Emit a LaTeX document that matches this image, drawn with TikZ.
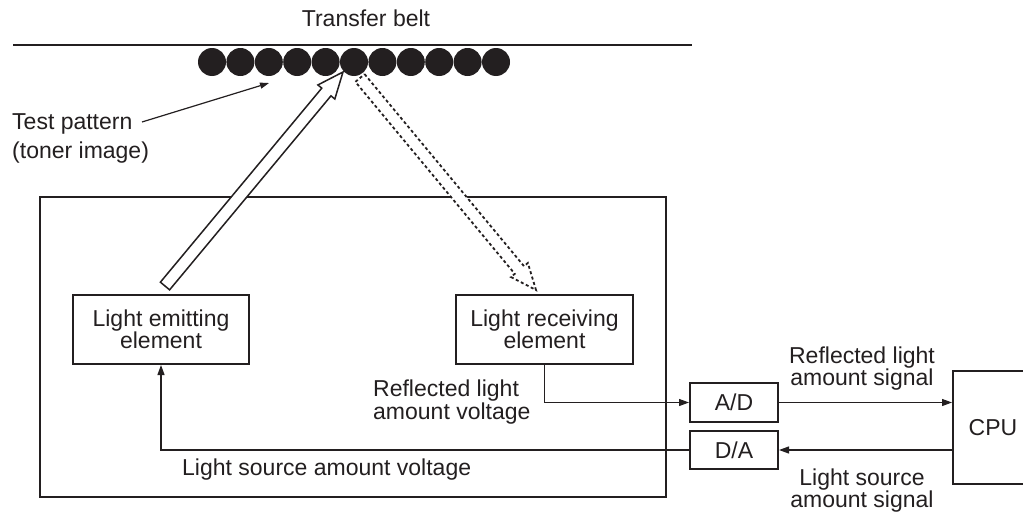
\documentclass[tikz,border=0pt]{standalone}
\usepackage{fontspec}
\setmainfont{Liberation Sans}
\usetikzlibrary{calc,arrows.meta}
\definecolor{ink}{HTML}{231F20}
\newcommand\hollowarrow[3]{%
  \coordinate (H) at ($(#3)!26pt!(#2)$);
  \draw[#1] ($(#2)!6pt!90:(#3)$) -- ($(H)!6pt!90:(#3)$) -- ($(H)!11pt!90:(#3)$) -- (#3)
    -- ($(H)!11pt!-90:(#3)$) -- ($(H)!6pt!-90:(#3)$) -- ($(#2)!6pt!-90:(#3)$) -- cycle;}
\begin{document}
\begin{tikzpicture}[x=1pt,y=-1pt,
  txt/.style={font=\fontsize{23}{22.5}\selectfont, inner sep=0pt, text=ink},
  box/.style={draw=ink, line width=2pt, inner sep=0pt, txt, align=center},
  sig/.style={draw=ink, line width=1.2pt, -{Triangle[length=10pt,width=7pt]}},
  beam/.style={draw=ink, fill=white, line width=1.5pt, line join=miter},
  toner/.style={circle, fill=ink, minimum size=28pt, inner sep=0pt}]
\clip (0,0) rectangle (1023,514);
\fill[white] (0,0) rectangle (1023,514);
% transfer belt
\coordinate (beltL) at (13,45);
\coordinate (beltR) at (692,45);
\draw[ink, line width=2pt] (beltL) -- (beltR);
\node[txt, anchor=base] (belt) at (366,27) {Transfer belt};
% sensor housing
\draw[ink, line width=2pt] (40,197) rectangle (666,497);
% boxes
\node[box, minimum width=176pt, minimum height=69pt] (emit) at (161,329.5) {Light emitting\\element};
\node[box, minimum width=177pt, minimum height=69pt] (recv) at (544.5,329.5) {Light receiving\\element};
\node[box, minimum width=88pt, minimum height=39pt] (AD) at (734,402.5) {A/D};
\node[box, minimum width=88pt, minimum height=38pt] (DA) at (734,450) {D/A};
\node[box, minimum width=80pt, minimum height=113pt] (CPU) at (993,427.5) {CPU};
% light beams
\coordinate (eT) at (165,286);
\coordinate (eP) at (343,72);
\coordinate (rT) at (360,78);
\coordinate (rP) at (536,290);
\hollowarrow{beam}{eT}{eP}
\hollowarrow{beam, line width=1.8pt, dash pattern=on 3pt off 2.6pt}{rT}{rP}
% toner test pattern
\foreach \i in {0,...,10} {\node[toner] (c\i) at (212+28.4*\i,62) {};}
% test pattern label
\node[txt, font=\fontsize{23}{29}\selectfont, align=left, anchor=north west] (tp) at (12,113) {Test pattern\\(toner image)};
\coordinate (tpS) at (142,122);
\coordinate (tpE) at (269,83);
\draw[ink, line width=1.2pt, -{Triangle[length=9pt,width=6pt]}] (tpS) -- (tpE);
% signal lines
\draw[sig] (recv.south) |- (AD.west);
\draw[sig] (DA.west) -| (emit.south);
\draw[sig] (AD.east) -- (CPU.west |- AD.east);
\draw[sig] (CPU.west |- DA.east) -- (DA.east);
% labels
\node[txt, align=left, anchor=north west] (rlv) at (373,380) {Reflected light\\amount voltage};
\node[txt, anchor=north west] (lsv) at (182,458.5) {Light source amount voltage};
\node[txt, align=center, anchor=north] (rls) at (862,346.5) {Reflected light\\amount signal};
\node[txt, align=center, anchor=north] (lss) at (862,468.5) {Light source\\amount signal};
\end{tikzpicture}
\end{document}
